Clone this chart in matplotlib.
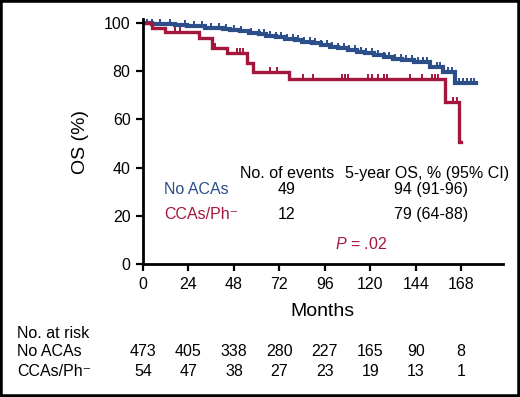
import numpy as np
import matplotlib.pyplot as plt
from matplotlib.markers import TICKUP
from matplotlib.patches import Rectangle
from matplotlib.transforms import blended_transform_factory

# -----------------------------
# Kaplan-Meier data
# -----------------------------

blue = "#2C4E89"
red = "#A3173C"

# No ACAs: step times (months) and OS (%)
no_aca_time = [0, 5, 11, 17, 23, 28, 33, 37, 42, 46, 51, 56, 61, 65, 70, 75, 80, 84,
               89, 94, 99, 103, 108, 113, 117, 122, 127, 132, 137, 143, 151.5, 158.5, 164.8]
no_aca_surv = [100, 99.7, 99.5, 99.3, 98.9, 98.6, 98.1, 97.8, 97.4, 97.0, 96.5, 96.0, 95.4,
               94.8, 94.2, 93.5, 92.9, 92.3, 91.6, 90.9, 90.2, 89.6, 88.9, 88.1, 87.4, 86.8,
               86.0, 85.2, 84.6, 84.0, 81.9, 79.8, 75.0]
no_aca_end = 176
no_aca_censor = [2, 5, 9, 14, 22, 27, 31, 36, 40, 44, 48, 52, 57, 61, 64, 67, 70, 73, 76, 79,
                 82, 85, 88, 91, 94, 97, 100, 103, 106, 109, 112, 115, 118, 121, 124, 127,
                 130, 133, 136, 139, 142, 145, 148, 150, 155, 157, 161, 163, 167, 169, 171,
                 173, 175]

# CCAs/Ph-
cca_time = [0, 4.6, 11.6, 29.8, 36.3, 44.2, 54.8, 58.3, 77.3, 159.5, 166.6]
cca_surv = [100, 98.0, 96.1, 93.9, 89.5, 87.4, 83.3, 79.8, 76.8, 67.1, 50.5]
cca_end = 167.8
cca_censor = [17, 19.5, 38, 49.5, 51, 53, 67, 71, 84.5, 90, 105, 106.7, 108, 119, 121, 124,
              127, 129, 141, 147.4, 152.7, 154, 156, 163.8, 165.8]

x_ticks = [0, 24, 48, 72, 96, 120, 144, 168]
risk_no_aca = [473, 405, 338, 280, 227, 165, 90, 8]
risk_cca = [54, 47, 38, 27, 23, 19, 13, 1]

plt.rcParams['font.family'] = ['Liberation Sans', 'DejaVu Sans']
plt.rcParams['mathtext.fontset'] = 'custom'
plt.rcParams['mathtext.rm'] = 'Liberation Sans'
plt.rcParams['mathtext.it'] = 'Liberation Sans:italic'

fig = plt.figure(figsize=(5.2, 3.97), dpi=100)
ax = fig.add_axes([0.275, 0.335, 0.692, 0.616])


def km(ax, t, s, end, censor, color, lw):
    tt = list(t) + [end]
    ss = list(s) + [s[-1]]
    ax.step(tt, ss, where='post', color=color, lw=lw, solid_joinstyle='miter')
    idx = np.searchsorted(t, censor, side='right') - 1
    ax.plot(censor, np.array(s)[idx], ls='none', marker=TICKUP, ms=3.5,
            mew=1.4, color=color)


km(ax, no_aca_time, no_aca_surv, no_aca_end, no_aca_censor, blue, 3.0)
km(ax, cca_time, cca_surv, cca_end, cca_censor, red, 2.4)

ax.set_xlim(0, 190)
ax.set_ylim(0, 101.5)
ax.set_xticks(x_ticks)
ax.set_yticks([0, 20, 40, 60, 80, 100])
ax.spines['top'].set_visible(False)
ax.spines['right'].set_visible(False)
ax.spines['left'].set_linewidth(2)
ax.spines['bottom'].set_linewidth(2)
ax.tick_params(width=1.6, length=5, labelsize=11.5, pad=4)
ax.set_xlabel("Months", fontsize=14, labelpad=8)
ax.set_ylabel("OS (%)", fontsize=14, labelpad=11)

# legend table
fs = 11.5
ax.text(76, 37.5, "No. of events", ha='center', va='center', fontsize=fs)
ax.text(150, 37.5, "5-year OS, % (95% CI)", ha='center', va='center', fontsize=fs)
ax.text(11, 31, "No ACAs", ha='left', va='center', fontsize=fs, color=blue)
ax.text(11, 20.5, "CCAs/Ph\u207b", ha='left', va='center', fontsize=fs, color=red)
ax.text(76, 31, "49", ha='center', va='center', fontsize=fs)
ax.text(76, 20.5, "12", ha='center', va='center', fontsize=fs)
ax.text(152, 31, "94 (91-96)", ha='center', va='center', fontsize=fs)
ax.text(152, 20.5, "79 (64-88)", ha='center', va='center', fontsize=fs)
ax.text(115, 8.5, "$P$ = .02", ha='center', va='center', fontsize=fs, color=red)

# numbers at risk
risk_tr = blended_transform_factory(ax.transData, fig.transFigure)
fig.text(17 / 520, 1 - 333 / 397, "No. at risk", fontsize=fs, va='center')
for label, vals, ypx in [("No ACAs", risk_no_aca, 352), ("CCAs/Ph\u207b", risk_cca, 372)]:
    fig.text(17 / 520, 1 - ypx / 397, label, fontsize=fs, va='center')
    for xv, v in zip(x_ticks, vals):
        ax.text(xv, 1 - ypx / 397, str(v), transform=risk_tr, ha='center', va='center',
                fontsize=fs, clip_on=False)

# outer black frame
fig.patches.append(Rectangle((0, 0), 1, 1, transform=fig.transFigure, fill=False,
                             ec='black', lw=4, zorder=10))

fig.savefig("out.png", dpi=100)
